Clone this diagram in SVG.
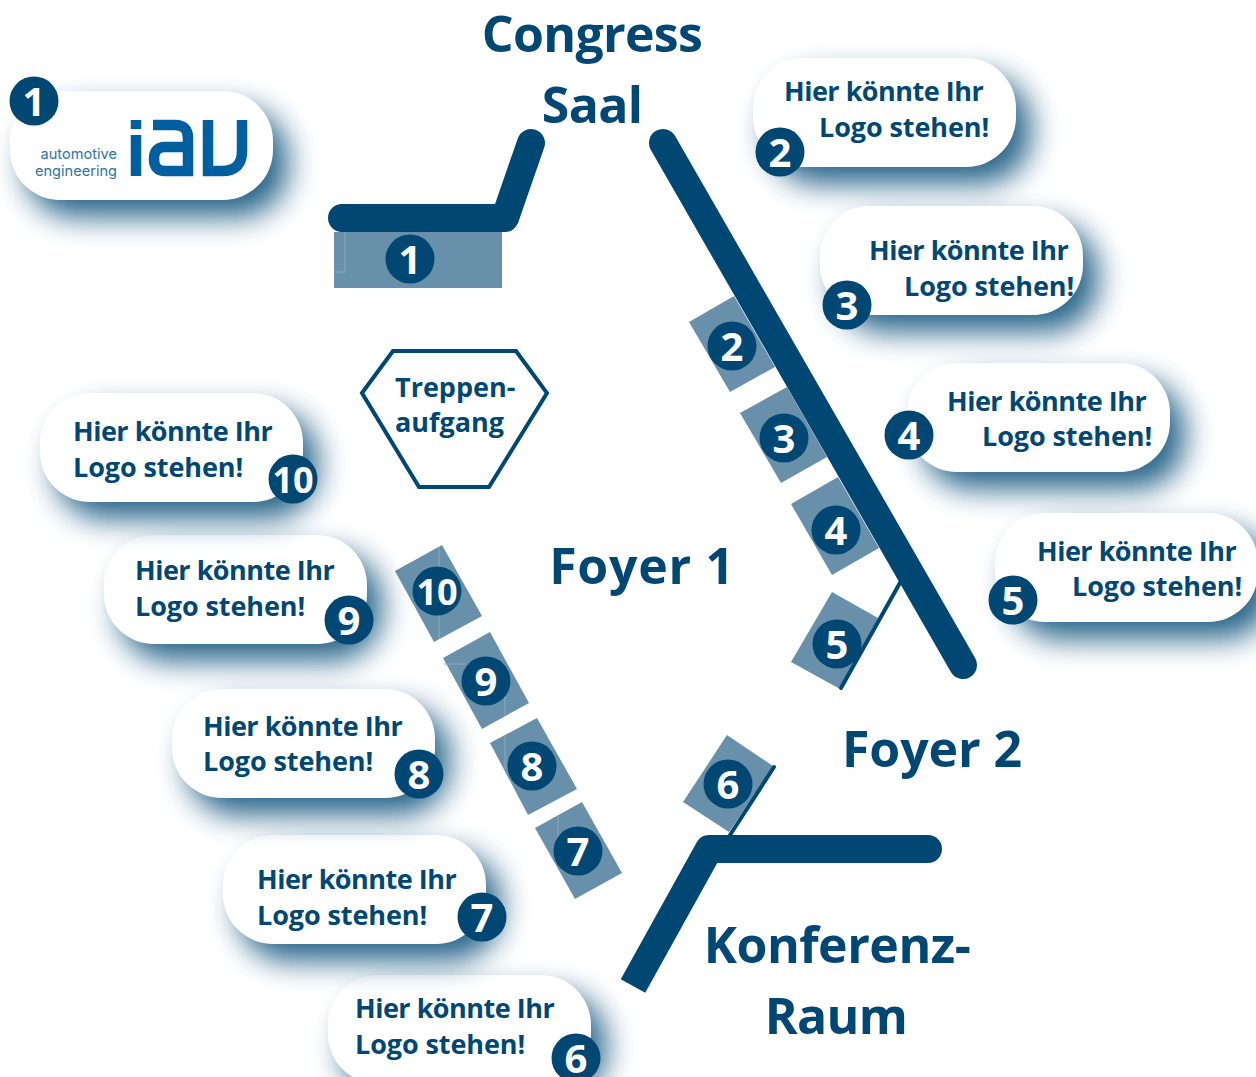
<svg xmlns="http://www.w3.org/2000/svg" width="1256" height="1077" viewBox="0 0 1256 1077">
<style>
text{font-family:"Open Sans","Noto Sans","Liberation Sans",sans-serif;fill:#004873}
.pill{fill:#fff;filter:url(#sh)}
.c{fill:#004873}
.n{fill:#fff;font-size:40px;font-weight:700;text-anchor:middle}
.lbl{font-size:27px;font-weight:700;letter-spacing:-.5px}
.lb2{font-size:27px;font-weight:700;letter-spacing:-.1px}
.big{font-size:50px;font-weight:700;letter-spacing:-.7px;text-anchor:middle}
.tr{font-size:27px;font-weight:700}
.booth{fill:#6890ab}
.seam{fill:none;stroke:#8dabbf;stroke-width:1}
.wall{fill:none;stroke:#004873;stroke-width:28;stroke-linejoin:round}
.thin{fill:none;stroke:#004873;stroke-width:4;stroke-linecap:round}
.logo{fill:none;stroke:#005f9f;stroke-width:10.5}
.lt{fill:#2f74a8;font-family:Inter,"Noto Sans",sans-serif;font-size:14.6px;text-anchor:end}
</style>
<defs>
<filter id="sh" x="-25%" y="-50%" width="160%" height="220%" color-interpolation-filters="sRGB">
<feGaussianBlur in="SourceAlpha" stdDeviation="15"/>
<feOffset dx="15" dy="17"/>
<feComponentTransfer result="b"><feFuncA type="linear" slope="0.85"/></feComponentTransfer>
<feFlood flood-color="#004873"/>
<feComposite in2="b" operator="in"/>
<feMerge><feMergeNode/><feMergeNode in="SourceGraphic"/></feMerge>
</filter>
</defs>

<g id="walls">
<path class="wall" stroke-linecap="round" d="M342,218H505L531,143"/>
<path class="wall" stroke-linecap="round" d="M663,143L963,665"/>
<path class="wall" d="M633,986L709,849H928"/>
<circle class="c" cx="928" cy="849" r="14"/>
</g>

<g id="booth-1"><rect class="booth" x="334" y="232" width="168" height="56"/><path class="seam" d="M334,272H345V232"/><circle class="c" cx="410" cy="259" r="24.5"/><text class="n" x="410" y="274">1</text></g>
<g id="booth-2"><polygon class="booth" points="689,322 734,296 775,367 730,392"/><circle class="c" cx="732" cy="346" r="24.5"/><text class="n" x="732" y="361">2</text></g>
<g id="booth-3"><polygon class="booth" points="740,413 787,387 827,457 781,483"/><circle class="c" cx="784" cy="438" r="24.5"/><text class="n" x="784" y="453">3</text></g>
<g id="booth-4"><polygon class="booth" points="791,504 838,477 879,548 832,575"/><circle class="c" cx="836" cy="530" r="24.5"/><text class="n" x="836" y="545">4</text></g>
<g id="booth-5"><polygon class="booth" points="832,592 878,618 840,689 791,662"/><path class="thin" d="M901,581L841,688"/><circle class="c" cx="837" cy="644" r="24.5"/><text class="n" x="837" y="659">5</text></g>
<g id="booth-6"><polygon class="booth" points="727,735 773,766 729,832 683,802"/><path class="thin" d="M774,767L730,835"/><circle class="c" cx="728" cy="784" r="24.5"/><text class="n" x="728" y="799">6</text></g>
<g id="booth-7"><polygon class="booth" points="535,828 582,802 622,873 575,899"/><path class="seam" d="M558,815V838"/><circle class="c" cx="578" cy="851" r="24.5"/><text class="n" x="578" y="866">7</text></g>
<g id="booth-8"><polygon class="booth" points="490,743 537,718 577,789 528,815"/><path class="seam" d="M505,735V769"/><circle class="c" cx="532" cy="766" r="24.5"/><text class="n" x="532" y="781">8</text></g>
<g id="booth-9"><polygon class="booth" points="443,658 490,632 529,703 482,729"/><path class="seam" d="M444,664H466M505,693V716"/><circle class="c" cx="486" cy="681" r="24.5"/><text class="n" x="486" y="696">9</text></g>
<g id="booth-10"><polygon class="booth" points="395,571 442,545 482,616 434,642"/><path class="seam" d="M439,547V639"/><circle class="c" cx="437" cy="591" r="24.5"/><text class="n" x="437" y="605" style="font-size:36px">10</text></g>

<g id="treppe"><polygon points="362,393 393,351 516,351 547,393 489,487 419,487" fill="#fff" stroke="#004873" stroke-width="4"/><text class="tr" x="395" y="397">Treppen-</text><text class="tr" x="395" y="432">aufgang</text></g>

<g id="rooms">
<text class="big" x="592" y="52">Congress</text>
<text class="big" x="592" y="123">Saal</text>
<text class="big" x="642" y="584" style="letter-spacing:.7px">Foyer 1</text>
<text class="big" x="932" y="767" style="letter-spacing:-.1px">Foyer 2</text>
<text class="big" x="837" y="963" style="letter-spacing:-.5px">Konferenz-</text>
<text class="big" x="836" y="1034">Raum</text>
</g>

<g id="sponsor-1"><rect class="pill" x="10" y="91" width="263" height="109" rx="50"/>
<circle class="c" cx="34" cy="101" r="24.5"/><text class="n" x="34" y="116">1</text>
<text class="lt" x="117" y="159">automotive</text><text class="lt" x="117" y="176">engineering</text>
<path class="logo" d="M136,120V129M136,135V176M153,125H175Q188,125 188,138V176M193,171H165Q154,171 154,159Q154,147 165,147H188M208,120V171H222Q242,171 242,151V120"/></g>

<g id="sponsor-2"><rect class="pill" x="753" y="58" width="263" height="109" rx="50"/><text class="lbl" x="784" y="101">Hier könnte Ihr</text><text class="lb2" x="819" y="137">Logo stehen!</text><circle class="c" cx="780" cy="152" r="24.5"/><text class="n" x="780" y="167">2</text></g>
<g id="sponsor-3"><rect class="pill" x="820" y="206" width="263" height="109" rx="50"/><text class="lbl" x="869" y="260">Hier könnte Ihr</text><text class="lb2" x="904" y="296">Logo stehen!</text><circle class="c" cx="847" cy="305" r="24.5"/><text class="n" x="847" y="320">3</text></g>
<g id="sponsor-4"><rect class="pill" x="907" y="363" width="263" height="109" rx="50"/><text class="lbl" x="947" y="411">Hier könnte Ihr</text><text class="lb2" x="982" y="446">Logo stehen!</text><circle class="c" cx="909" cy="435" r="24.5"/><text class="n" x="909" y="450">4</text></g>
<g id="sponsor-5"><rect class="pill" x="995" y="513" width="263" height="109" rx="50"/><text class="lbl" x="1037" y="561">Hier könnte Ihr</text><text class="lb2" x="1072" y="596">Logo stehen!</text><circle class="c" cx="1013" cy="600" r="24.5"/><text class="n" x="1013" y="615">5</text></g>
<g id="sponsor-6"><rect class="pill" x="328" y="975" width="263" height="109" rx="50"/><text class="lbl" x="355" y="1018">Hier könnte Ihr</text><text class="lb2" x="355" y="1054">Logo stehen!</text><circle class="c" cx="576" cy="1058" r="24.5"/><text class="n" x="576" y="1073">6</text></g>
<g id="sponsor-7"><rect class="pill" x="223" y="835" width="263" height="109" rx="50"/><text class="lbl" x="257" y="889">Hier könnte Ihr</text><text class="lb2" x="257" y="925">Logo stehen!</text><circle class="c" cx="482" cy="917" r="24.5"/><text class="n" x="482" y="932">7</text></g>
<g id="sponsor-8"><rect class="pill" x="172" y="689" width="263" height="109" rx="50"/><text class="lbl" x="203" y="736">Hier könnte Ihr</text><text class="lb2" x="203" y="771">Logo stehen!</text><circle class="c" cx="419" cy="774" r="24.5"/><text class="n" x="419" y="789">8</text></g>
<g id="sponsor-9"><rect class="pill" x="104" y="535" width="263" height="109" rx="50"/><text class="lbl" x="135" y="580">Hier könnte Ihr</text><text class="lb2" x="135" y="616">Logo stehen!</text><circle class="c" cx="349" cy="620" r="24.5"/><text class="n" x="349" y="635">9</text></g>
<g id="sponsor-10"><rect class="pill" x="40" y="393" width="263" height="109" rx="50"/><text class="lbl" x="73" y="441">Hier könnte Ihr</text><text class="lb2" x="73" y="477">Logo stehen!</text><circle class="c" cx="293" cy="479" r="24.5"/><text class="n" x="293" y="493" style="font-size:36px">10</text></g>
</svg>
